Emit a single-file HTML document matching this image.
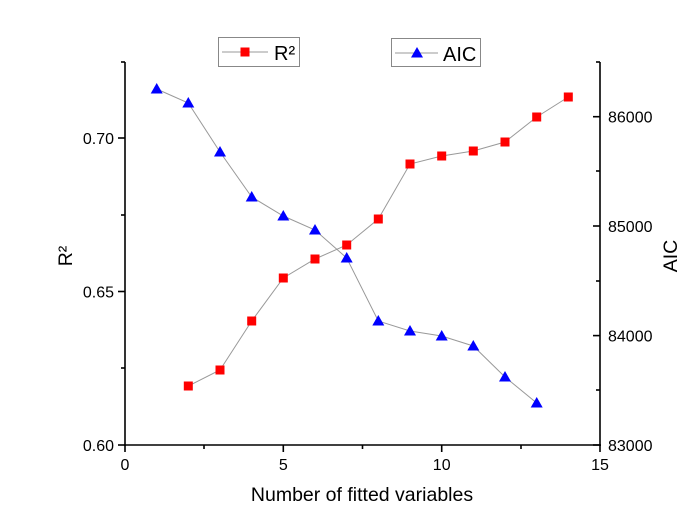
<!DOCTYPE html>
<html><head><meta charset="utf-8"><style>
body{margin:0;background:#fff}
svg text{font-family:"Liberation Sans",Arial,sans-serif;fill:#000}
</style></head><body>
<svg width="690" height="516" viewBox="0 0 690 516" xmlns="http://www.w3.org/2000/svg">
<defs>
<rect id="sq" x="-4.5" y="-4.5" width="9" height="9" fill="#ff0000"/>
<polygon id="tr" points="0,-6 6,4.5 -6,4.5" fill="#0000ff"/>
</defs>
<g stroke="#000" stroke-width="1.6" fill="none">
<line x1="125" y1="62" x2="125" y2="446"/>
<line x1="600" y1="62" x2="600" y2="446"/>
<line x1="124" y1="445" x2="601" y2="445"/>
<line x1="118" y1="445" x2="125" y2="445"/><line x1="118" y1="291.5" x2="125" y2="291.5"/><line x1="118" y1="138" x2="125" y2="138"/>
<line x1="121" y1="368" x2="125" y2="368"/><line x1="121" y1="215" x2="125" y2="215"/><line x1="121" y1="62" x2="125" y2="62"/>
<line x1="593" y1="445" x2="600" y2="445"/><line x1="593" y1="335.6" x2="600" y2="335.6"/><line x1="593" y1="226" x2="600" y2="226"/><line x1="593" y1="116.7" x2="600" y2="116.7"/>
<line x1="596" y1="390" x2="600" y2="390"/><line x1="596" y1="281" x2="600" y2="281"/><line x1="596" y1="171" x2="600" y2="171"/><line x1="596" y1="62" x2="600" y2="62"/>
<line x1="125" y1="445" x2="125" y2="452"/><line x1="283.3" y1="445" x2="283.3" y2="452"/><line x1="441.7" y1="445" x2="441.7" y2="452"/><line x1="600" y1="445" x2="600" y2="452"/>
<line x1="204" y1="445" x2="204" y2="449"/><line x1="362.5" y1="445" x2="362.5" y2="449"/><line x1="521" y1="445" x2="521" y2="449"/>
</g>
<g font-size="16" text-anchor="end">
<text x="114" y="451">0.60</text><text x="114" y="297.5">0.65</text><text x="114" y="144">0.70</text>
</g>
<g font-size="16" text-anchor="start">
<text x="608" y="451">83000</text><text x="608" y="341.6">84000</text><text x="608" y="232">85000</text><text x="608" y="122.7">86000</text>
</g>
<g font-size="16" text-anchor="middle">
<text x="125" y="470">0</text><text x="283.3" y="470">5</text><text x="441.7" y="470">10</text><text x="600" y="470">15</text>
</g>
<text x="362" y="501" font-size="19.5" text-anchor="middle">Number of fitted variables</text>
<text transform="translate(72,256) rotate(-90)" font-size="19.5" text-anchor="middle">R²</text>
<text transform="translate(677,256) rotate(-90)" font-size="19.5" text-anchor="middle">AIC</text>
<g stroke="#999" stroke-width="1" fill="none">
<polyline points="188.3,386 220,370 251.7,321 283.3,278 315,259 346.7,245 378.3,219 410,164 441.7,156 473.3,151 505,142 536.7,117 568.3,97"/>
<polyline points="156.7,89 188.3,103 220,152 251.7,197 283.3,216 315,230 346.7,258 378.3,321 410,331 441.7,336 473.3,346 505,377 536.7,403"/>
</g>
<g>
<use href="#sq" x="188.3" y="386"/><use href="#sq" x="220" y="370"/><use href="#sq" x="251.7" y="321"/><use href="#sq" x="283.3" y="278"/><use href="#sq" x="315" y="259"/><use href="#sq" x="346.7" y="245"/><use href="#sq" x="378.3" y="219"/><use href="#sq" x="410" y="164"/><use href="#sq" x="441.7" y="156"/><use href="#sq" x="473.3" y="151"/><use href="#sq" x="505" y="142"/><use href="#sq" x="536.7" y="117"/><use href="#sq" x="568.3" y="97"/>
<use href="#tr" x="156.7" y="89"/><use href="#tr" x="188.3" y="103"/><use href="#tr" x="220" y="152"/><use href="#tr" x="251.7" y="197"/><use href="#tr" x="283.3" y="216"/><use href="#tr" x="315" y="230"/><use href="#tr" x="346.7" y="258"/><use href="#tr" x="378.3" y="321"/><use href="#tr" x="410" y="331"/><use href="#tr" x="441.7" y="336"/><use href="#tr" x="473.3" y="346"/><use href="#tr" x="505" y="377"/><use href="#tr" x="536.7" y="403"/>
</g>
<rect x="218.5" y="37.5" width="81" height="29" fill="#fff" stroke="#888" stroke-width="1"/>
<line x1="222" y1="52" x2="268" y2="52" stroke="#999"/>
<use href="#sq" x="245" y="52"/>
<text x="274" y="60" font-size="20">R²</text>
<rect x="391.5" y="38.5" width="89" height="28" fill="#fff" stroke="#888" stroke-width="1"/>
<line x1="395" y1="53" x2="438" y2="53" stroke="#999"/>
<use href="#tr" x="417" y="53"/>
<text x="443" y="61" font-size="20">AIC</text>
</svg>
</body></html>
